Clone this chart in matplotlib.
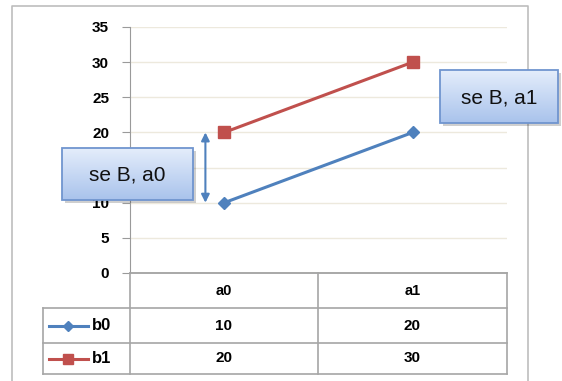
import numpy as np
import matplotlib
matplotlib.use("Agg")
import matplotlib.pyplot as plt
from matplotlib.patches import Rectangle

# データ
categories = ["a0", "a1"]
series_names = ["b0", "b1"]
b0_values = [10, 20]
b1_values = [20, 30]
y_ticks = [0, 5, 10, 15, 20, 25, 30, 35]
notes = ["se B, a0", "se B, a1"]

W, H = 562, 381
BLUE = "#4F81BD"
RED = "#C0504D"
GRID = "#EDE9DD"
AXIS = "#9A9A9A"
plt.rcParams["font.family"] = ["Liberation Sans", "DejaVu Sans"]

fig = plt.figure(figsize=(W / 100, H / 100), dpi=100)

def px(x0, y0, x1, y1):
    # pixel box -> figure fraction
    return [x0 / W, 1 - y1 / H, (x1 - x0) / W, (y1 - y0) / H]

# 背景レイヤ (ピクセル座標)
bg = fig.add_axes([0, 0, 1, 1])
bg.set_xlim(0, W)
bg.set_ylim(H, 0)
bg.axis("off")
bg.plot([12, 12, 528, 528], [H + 5, 6, 6, H + 5], color="#BDBDBD", lw=1.2)

# メインのグラフ
ax = fig.add_axes(px(130, 27, 507, 273))
x = np.arange(len(categories))
ax.plot(x, b0_values, color=BLUE, lw=2.2, marker="D", ms=6, zorder=3)
ax.plot(x, b1_values, color=RED, lw=2.2, marker="s", ms=8, zorder=3)
ax.set_xlim(-0.5, len(categories) - 0.5)
ax.set_ylim(0, 35)
ax.set_yticks(y_ticks)
ax.set_yticklabels([str(t) for t in y_ticks], fontweight="bold", fontsize=11)
ax.set_xticks([])
ax.tick_params(axis="y", length=6, color=AXIS, pad=9)
for s in ["top", "right"]:
    ax.spines[s].set_visible(False)
ax.spines["left"].set_color(AXIS)
ax.spines["bottom"].set_color(AXIS)
ax.spines["bottom"].set_linewidth(1.2)
ax.grid(axis="y", color=GRID, lw=1)
ax.set_axisbelow(True)
ax.patch.set_alpha(0)

# 両矢印 (a0 の差)
ax.annotate("", xy=(-0.1, b1_values[0]), xytext=(-0.1, b0_values[0]),
            arrowprops=dict(arrowstyle="<|-|>", color=BLUE, lw=1.5,
                            mutation_scale=12, shrinkA=0, shrinkB=0))

# データテーブル
tb = fig.add_axes([0, 0, 1, 1])
tb.set_xlim(0, W)
tb.set_ylim(H, 0)
tb.axis("off")
col_edges = [130, 318, 507]
row_edges = [273, 308, 343, 374]
lc = "#A6A6A6"
for yy in row_edges[1:]:
    tb.plot([43, col_edges[-1]], [yy, yy], color=lc, lw=1.2)
tb.plot([43, 43], [row_edges[1], row_edges[-1]], color=lc, lw=1.2)
for xx in col_edges:
    tb.plot([xx, xx], [row_edges[0], row_edges[-1]], color=lc, lw=1.2)
centers = [(col_edges[i] + col_edges[i + 1]) / 2 for i in range(len(categories))]
for c, lab in zip(centers, categories):
    tb.text(c, 291, lab, ha="center", va="center", fontsize=10.5, fontweight="bold")
rows = [b0_values, b1_values]
styles = [(BLUE, "D", 5), (RED, "s", 7)]
for i, (name, vals) in enumerate(zip(series_names, rows)):
    yc = (row_edges[i + 1] + row_edges[i + 2]) / 2
    col, mk, ms = styles[i]
    tb.plot([49, 88], [yc, yc], color=col, lw=2.2)
    tb.plot([68], [yc], color=col, marker=mk, ms=ms)
    tb.text(92, yc, name, ha="left", va="center", fontsize=12, fontweight="bold")
    for c, v in zip(centers, vals):
        tb.text(c, yc, str(v), ha="center", va="center", fontsize=11, fontweight="bold")

# 吹き出しボックス
grad = np.linspace(0, 1, 100).reshape(-1, 1)
cmap = matplotlib.colors.LinearSegmentedColormap.from_list("g", ["#E4EDFB", "#A9C3EC"])
boxes = [(62, 148, 193, 200), (440, 70, 558, 123)]
for (x0, y0, x1, y1), txt in zip(boxes, notes):
    sh = Rectangle((x0 + 3, y0 + 3), x1 - x0, y1 - y0, color="#00000030", lw=0, zorder=4)
    tb.add_patch(sh)
    im = tb.imshow(grad, extent=(x0, x1, y1, y0), cmap=cmap, aspect="auto", zorder=5)
    rect = Rectangle((x0, y0), x1 - x0, y1 - y0, fc="none", ec="#7095CF", lw=1.3, zorder=6)
    tb.add_patch(rect)
    im.set_clip_path(rect)
    tb.text((x0 + x1) / 2, (y0 + y1) / 2 + 1, txt, ha="center", va="center",
            fontsize=15, zorder=7, color="#111111")
tb.set_xlim(0, W)
tb.set_ylim(H, 0)

fig.savefig("out.png", dpi=100)
